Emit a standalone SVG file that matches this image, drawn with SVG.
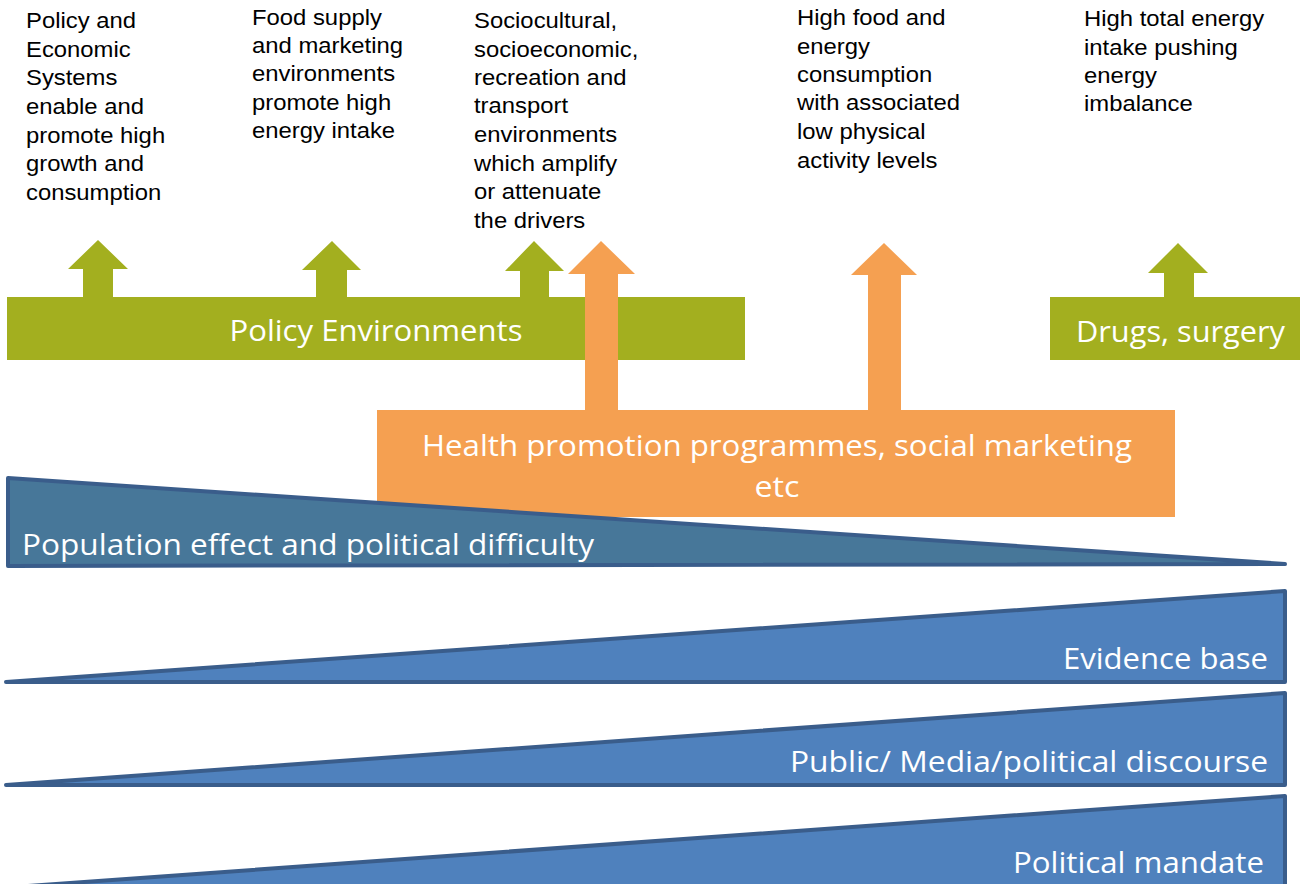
<svg xmlns="http://www.w3.org/2000/svg" width="1300" height="884" viewBox="0 0 1300 884">
<style>
.top{font-family:"Liberation Sans",Arial,sans-serif;font-size:22.5px;fill:#000}
.lbl{font-family:"Open Sans","Noto Sans",sans-serif;font-size:29px;fill:#fff}
.green{fill:#a3af1f}
.orange{fill:#f5a051}
.tri1{fill:#477799;stroke:#3a5d8b;stroke-width:4;stroke-linejoin:round}
.tri{fill:#4f81bd;stroke:#3a5d8b;stroke-width:4;stroke-linejoin:round}
</style>
<rect width="1300" height="884" fill="#fff"/>

<g id="text-policy-economic" transform="translate(26,0) scale(1.06,1)">
<text class="top" x="0" y="28">Policy and</text>
<text class="top" x="0" y="57">Economic</text>
<text class="top" x="0" y="85">Systems</text>
<text class="top" x="0" y="114">enable and</text>
<text class="top" x="0" y="143">promote high</text>
<text class="top" x="0" y="171">growth and</text>
<text class="top" x="0" y="200">consumption</text>
</g>
<g id="text-food-supply" transform="translate(252,0) scale(1.06,1)">
<text class="top" x="0" y="25">Food supply</text>
<text class="top" x="0" y="53">and marketing</text>
<text class="top" x="0" y="81">environments</text>
<text class="top" x="0" y="110">promote high</text>
<text class="top" x="0" y="138">energy intake</text>
</g>
<g id="text-sociocultural" transform="translate(474,0) scale(1.06,1)">
<text class="top" x="0" y="28">Sociocultural,</text>
<text class="top" x="0" y="57">socioeconomic,</text>
<text class="top" x="0" y="85">recreation and</text>
<text class="top" x="0" y="113">transport</text>
<text class="top" x="0" y="142">environments</text>
<text class="top" x="0" y="171">which amplify</text>
<text class="top" x="0" y="199">or attenuate</text>
<text class="top" x="0" y="228">the drivers</text>
</g>
<g id="text-high-food" transform="translate(797,0) scale(1.06,1)">
<text class="top" x="0" y="25">High food and</text>
<text class="top" x="0" y="54">energy</text>
<text class="top" x="0" y="82">consumption</text>
<text class="top" x="0" y="110">with associated</text>
<text class="top" x="0" y="139">low physical</text>
<text class="top" x="0" y="168">activity levels</text>
</g>
<g id="text-high-total" transform="translate(1084,0) scale(1.06,1)">
<text class="top" x="0" y="26">High total energy</text>
<text class="top" x="0" y="55">intake pushing</text>
<text class="top" x="0" y="83">energy</text>
<text class="top" x="0" y="111">imbalance</text>
</g>

<g id="connectors">
<polygon class="green" points="98,240 128,269 113,269 113,299 83,299 83,269 68,269"/>
<polygon class="green" points="332,241 361,270 347,270 347,299 316,299 316,270 302,270"/>
<polygon class="green" points="534,241 564,271 549,271 549,299 520,299 520,271 505,271"/>
<polygon class="green" points="1178,243 1208,273 1194,273 1194,299 1164,299 1164,273 1148,273"/>
</g>

<g id="policy-environments">
<rect class="green" x="7" y="297" width="738" height="63"/>
<text class="lbl" x="376" y="341" text-anchor="middle" textLength="293" lengthAdjust="spacingAndGlyphs">Policy Environments</text>
</g>
<g id="drugs-surgery">
<rect class="green" x="1050" y="297" width="250" height="63"/>
<text class="lbl" x="1076" y="342" textLength="209" lengthAdjust="spacingAndGlyphs">Drugs, surgery</text>
</g>

<g id="health-promotion">
<rect class="orange" x="377" y="410" width="798" height="107"/>
<text class="lbl" x="777" y="456" text-anchor="middle" textLength="710" lengthAdjust="spacingAndGlyphs">Health promotion programmes, social marketing</text>
<text class="lbl" x="777" y="497" text-anchor="middle" textLength="45" lengthAdjust="spacingAndGlyphs">etc</text>
</g>

<g id="orange-arrows">
<polygon class="orange" points="601,241 635,274 618,274 618,412 585,412 585,274 568,274"/>
<polygon class="orange" points="884,243 917,275 901,275 901,412 868,412 868,275 851,275"/>
</g>

<g id="population-effect">
<polygon class="tri1" points="8,478 1285,564 8,566"/>
<text class="lbl" x="22" y="555" textLength="572" lengthAdjust="spacingAndGlyphs">Population effect and political difficulty</text>
</g>
<g id="evidence-base">
<polygon class="tri" points="6,682 1285,591 1285,682"/>
<text class="lbl" x="1268" y="669" text-anchor="end" textLength="205" lengthAdjust="spacingAndGlyphs">Evidence base</text>
</g>
<g id="public-discourse">
<polygon class="tri" points="6,785 1285,693 1285,785"/>
<text class="lbl" x="1268" y="772" text-anchor="end" textLength="478" lengthAdjust="spacingAndGlyphs">Public/ Media/political discourse</text>
</g>
<g id="political-mandate">
<polygon class="tri" points="0,888 1285,796 1285,890"/>
<text class="lbl" x="1264" y="873" text-anchor="end" textLength="251" lengthAdjust="spacingAndGlyphs">Political mandate</text>
</g>
</svg>
